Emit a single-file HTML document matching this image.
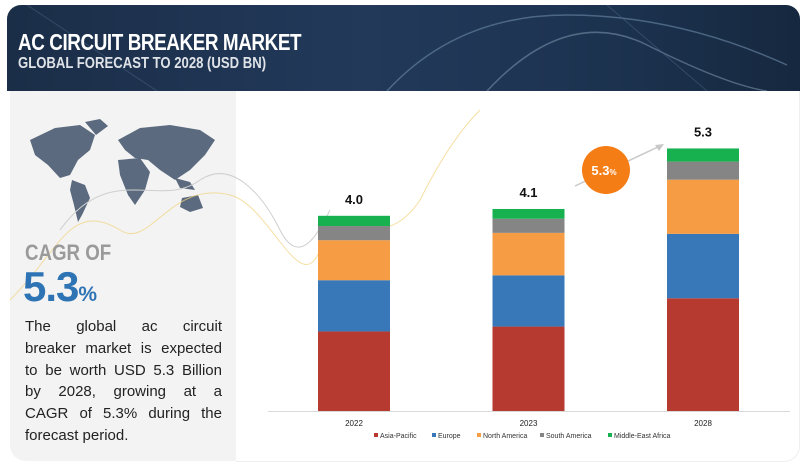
<!DOCTYPE html>
<html><head><meta charset="utf-8">
<style>
body{margin:0;width:807px;height:469px;background:#fff;overflow:hidden;font-family:"Liberation Sans",sans-serif;position:relative}
#hdr{position:absolute;left:7px;top:5px;width:793px;height:86px;border-radius:14px 14px 0 0;background:linear-gradient(90deg,#1b2e48,#22395a 45%,#1c3350 75%,#16283f);overflow:hidden}
#t1{position:absolute;left:11px;top:24px;color:#fff;font-size:23px;font-weight:bold;transform:scaleX(.82);transform-origin:left;white-space:nowrap;letter-spacing:-0.5px}
#t2{position:absolute;left:11px;top:50px;color:#dfe3e8;font-size:16px;font-weight:bold;transform:scaleX(.82);transform-origin:left;white-space:nowrap}
#left{position:absolute;left:10px;top:91px;width:226px;height:370px;background:#f3f3f3;border-radius:0 0 0 16px}
#frame{position:absolute;left:236px;top:91px;width:563px;height:370px;border-right:1px solid #eee;border-bottom:1px solid #eee;border-radius:0 0 16px 0}
#cagr{position:absolute;left:25px;top:240px;font-size:22px;font-weight:bold;color:#9a9a9a;transform:scaleX(.85);transform-origin:left}
#big{position:absolute;left:23px;top:263px;font-size:42px;color:#2e74b5;font-weight:bold;letter-spacing:-1px}
#big span{font-size:21px}
#para{position:absolute;left:25px;top:316px;width:197px;font-size:15px;line-height:21.8px;color:#222}
#para div{text-align:justify;text-align-last:justify;white-space:nowrap;height:21.8px}
#para div.l{text-align-last:left}
</style></head><body>
<div id="hdr">
<svg width="793" height="86" style="position:absolute;left:0;top:0">
<path d="M380 86 Q450 10 560 10 T780 60" stroke="#6d8aa8" stroke-width="1.5" fill="none" opacity=".6"/>
<path d="M480 86 Q560 0 640 40 T760 86" stroke="#8aa0b8" stroke-width="1.5" fill="none" opacity=".5"/>
<path d="M20 0 L150 86" stroke="#4a6686" stroke-width="1" opacity=".5"/>
<path d="M600 0 L700 86" stroke="#4a6686" stroke-width="1" opacity=".5"/>
</svg>
<div id="t1">AC CIRCUIT BREAKER MARKET</div>
<div id="t2">GLOBAL FORECAST TO 2028 (USD BN)</div>
</div>
<div id="left"></div>
<div id="frame"></div>
<svg width="807" height="469" style="position:absolute;left:0;top:0">
<path d="M30 140 L55 128 L80 125 L95 135 L90 150 L78 160 L70 175 L60 178 L48 165 L35 155Z" fill="#5b6a7f"/>
<path d="M85 122 L100 119 L108 126 L96 135Z" fill="#5b6a7f"/>
<path d="M72 180 L85 185 L90 198 L82 215 L78 222 L74 205 L70 190Z" fill="#5b6a7f"/>
<path d="M118 140 L140 128 L170 125 L200 130 L215 140 L205 155 L190 170 L175 180 L160 170 L148 160 L135 158 L125 150Z" fill="#5b6a7f"/>
<path d="M118 160 L140 158 L150 172 L145 190 L135 205 L128 195 L120 175Z" fill="#5b6a7f"/>
<path d="M182 198 L198 195 L203 208 L190 212 L180 207Z" fill="#5b6a7f"/>
<path d="M175 178 L190 182 L195 190 L180 188Z" fill="#5b6a7f"/>
<path d="M10 300 C60 250 70 200 120 230 C150 250 170 180 230 195 C270 205 300 300 320 250 C340 200 380 260 420 200 C440 160 460 130 480 110" stroke="#f1d27a" stroke-width="1" fill="none" opacity=".7"/>
<path d="M60 230 C110 160 160 210 200 180 C230 160 260 190 280 230 C300 270 320 230 330 210" stroke="#cfcfcf" stroke-width="1" fill="none"/>
</svg>
<div id="cagr">CAGR OF</div>
<div id="big">5.3<span>%</span></div>
<div id="para"><div>The global ac circuit</div><div>breaker market is expected</div><div>to be worth USD 5.3 Billion</div><div>by 2028, growing at a</div><div>CAGR of 5.3% during the</div><div class="l">forecast period.</div></div>
<svg id="chart" width="807" height="469" style="position:absolute;left:0;top:0"></svg>
<script>
const categories=["2022","2023","2028"];
const seriesNames=["Asia-Pacific","Europe","North America","South America","Middle-East Africa"];
const asiaPacific=[1.63,1.73,2.31];
const europe=[1.05,1.05,1.32];
const northAmerica=[0.82,0.87,1.11];
const southAmerica=[0.29,0.29,0.37];
const middleEastAfrica=[0.21,0.20,0.27];
const totals=["4.0","4.1","5.3"];
const series=[asiaPacific,europe,northAmerica,southAmerica,middleEastAfrica];
const colors=["#b63a2f","#3878b8","#f69c44","#858585","#17b14f"];
const slugs=["asia-pacific","europe","north-america","south-america","middle-east-africa"];
const svg=document.getElementById('chart');
const NS="http://www.w3.org/2000/svg";
const baseY=411,pxPer=48.8,x0=318,step=174.5,bw=72;
const y=v=>baseY-v*pxPer;
const xc=i=>x0+i*step;
function mk(t,a){const e=document.createElementNS(NS,t);for(const k in a)e.setAttribute(k,a[k]);svg.appendChild(e);return e;}
const ax=mk('line',{x1:268,x2:790,y1:baseY+0.5,y2:baseY+0.5,stroke:'#d9d9d9'});


categories.forEach((c,i)=>{
  let acc=0;
  series.forEach((s,j)=>{
    const r=mk('rect',{x:xc(i),width:bw,y:y(acc+s[i]),height:s[i]*pxPer,fill:colors[j]});
    
    
    acc+=s[i];
  });
  const tl=mk('text',{x:xc(i)+bw/2,y:y(acc)-12,'text-anchor':'middle','font-size':13,'font-weight':'bold',fill:'#111'});
  tl.textContent=totals[i];
  
  
  const xl=mk('text',{x:xc(i)+bw/2,y:426,'text-anchor':'middle','font-size':8,fill:'#222'});
  xl.textContent=c;
  
  
});
const arr=mk('line',{x1:575,y1:186,x2:660,y2:146,stroke:'#c8c8c8','stroke-width':1.5});


const ah=mk('path',{d:'M664 144 L655 145 L659 151Z',fill:'#c8c8c8'});


const cc=mk('circle',{cx:606,cy:170,r:24,fill:'#f57d15'});


const ct=mk('text',{x:604,y:175,'text-anchor':'middle','font-size':13,'font-weight':'bold',fill:'#fff'});
ct.innerHTML='5.3<tspan font-size="8">%</tspan>';


const lx=[374,432,477,540,608];
seriesNames.forEach((n,j)=>{
  const g=document.createElementNS(NS,'g');svg.appendChild(g);
  
  
  const r=document.createElementNS(NS,'rect');
  r.setAttribute('x',lx[j]);r.setAttribute('y',433);r.setAttribute('width',4);r.setAttribute('height',4);r.setAttribute('fill',colors[j]);g.appendChild(r);
  const t=document.createElementNS(NS,'text');
  t.setAttribute('x',lx[j]+6);t.setAttribute('y',438);t.setAttribute('font-size',7);t.setAttribute('fill','#333');t.textContent=n;g.appendChild(t);
});
</script>
</body></html>
